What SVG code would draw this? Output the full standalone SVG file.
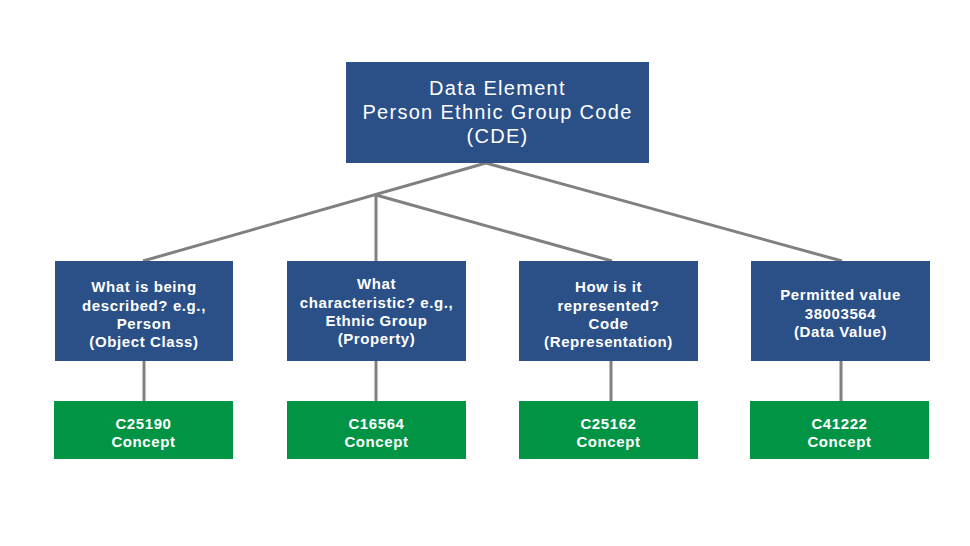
<svg xmlns="http://www.w3.org/2000/svg" width="970" height="546" viewBox="0 0 970 546">
<style>
.blue{fill:#2A5087;}
.green{fill:#009444;}
.t{font-family:"Liberation Sans",Arial,sans-serif;fill:#fff;text-anchor:middle;font-weight:bold;font-size:15px;letter-spacing:0.6px;}
.tt{font-family:"Liberation Sans",Arial,sans-serif;fill:#fff;text-anchor:middle;font-size:20px;letter-spacing:1.3px;}
.c{stroke:#808080;stroke-width:3;fill:none;}
</style>
<rect width="970" height="546" fill="#fff"/>
<g id="connectors">
<line class="c" x1="486" y1="163" x2="143" y2="261"/>
<line class="c" x1="376" y1="195" x2="376" y2="261"/>
<line class="c" x1="376" y1="195" x2="612" y2="261"/>
<line class="c" x1="486" y1="163" x2="842" y2="261"/>
<line class="c" x1="144" y1="361" x2="144" y2="401"/>
<line class="c" x1="376" y1="361" x2="376" y2="401"/>
<line class="c" x1="611" y1="361" x2="611" y2="401"/>
<line class="c" x1="841" y1="361" x2="841" y2="401"/>
</g>
<g id="cde">
<rect class="blue" x="346" y="62" width="303" height="101"/>
<text class="tt" x="497.5" y="95">Data Element</text>
<text class="tt" x="497.5" y="119">Person Ethnic Group Code</text>
<text class="tt" x="497.5" y="143">(CDE)</text>
</g>
<g id="object-class">
<rect class="blue" x="55" y="261" width="178" height="100"/>
<text class="t" x="144" y="292">What is being</text>
<text class="t" x="144" y="311">described? e.g.,</text>
<text class="t" x="144" y="329">Person</text>
<text class="t" x="144" y="347">(Object Class)</text>
</g>
<g id="property">
<rect class="blue" x="287" y="261" width="179" height="100"/>
<text class="t" x="376.5" y="289">What</text>
<text class="t" x="376.5" y="308">characteristic? e.g.,</text>
<text class="t" x="376.5" y="326">Ethnic Group</text>
<text class="t" x="376.5" y="344">(Property)</text>
</g>
<g id="representation">
<rect class="blue" x="519" y="261" width="179" height="100"/>
<text class="t" x="608.5" y="292">How is it</text>
<text class="t" x="608.5" y="311">represented?</text>
<text class="t" x="608.5" y="329">Code</text>
<text class="t" x="608.5" y="347">(Representation)</text>
</g>
<g id="data-value">
<rect class="blue" x="751" y="261" width="179" height="100"/>
<text class="t" x="840.5" y="300">Permitted value</text>
<text class="t" x="840.5" y="319">38003564</text>
<text class="t" x="840.5" y="337">(Data Value)</text>
</g>
<g id="c25190">
<rect class="green" x="54" y="401" width="179" height="58"/>
<text class="t" x="143.5" y="429">C25190</text>
<text class="t" x="143.5" y="447">Concept</text>
</g>
<g id="c16564">
<rect class="green" x="287" y="401" width="179" height="58"/>
<text class="t" x="376.5" y="429">C16564</text>
<text class="t" x="376.5" y="447">Concept</text>
</g>
<g id="c25162">
<rect class="green" x="519" y="401" width="179" height="58"/>
<text class="t" x="608.5" y="429">C25162</text>
<text class="t" x="608.5" y="447">Concept</text>
</g>
<g id="c41222">
<rect class="green" x="750" y="401" width="179" height="58"/>
<text class="t" x="839.5" y="429">C41222</text>
<text class="t" x="839.5" y="447">Concept</text>
</g>
</svg>
